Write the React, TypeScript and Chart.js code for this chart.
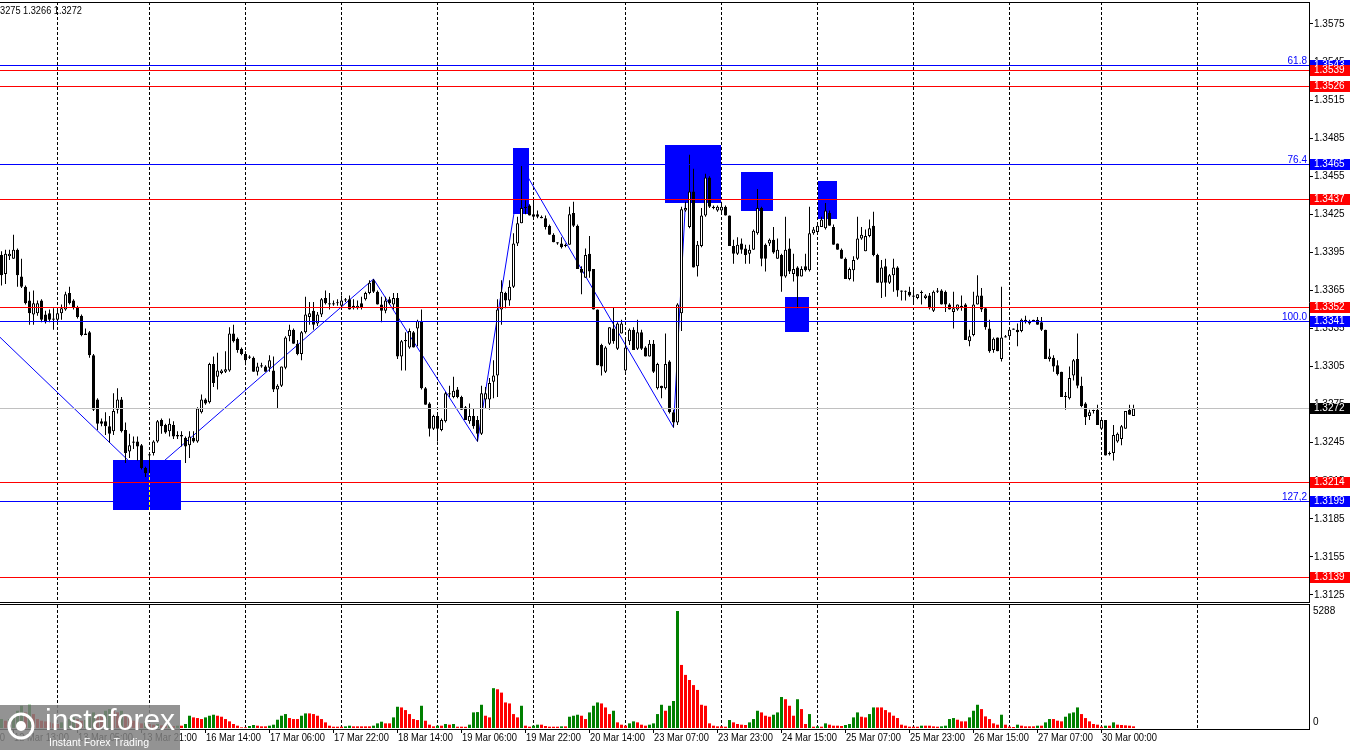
import React, { useEffect, useRef } from 'react';
import { Chart, registerables } from 'chart.js';

Chart.register(...registerables);

const FONT = '"Liberation Sans", Arial, sans-serif';

// ---- hourly candles (GBPUSD H1), bar index 0..283 ----
const OPEN = [
  1.3393,1.3378,1.3392,1.3390,1.3397,1.3376,1.3368,1.3357,1.3346,1.3347,
  1.3357,1.3346,1.3347,1.3343,1.3342,1.3347,1.3350,1.3363,1.3357,1.3352,
  1.3345,1.3331,1.3332,1.3314,1.3279,1.3262,1.3262,1.3258,1.3254,1.3271,
  1.3279,1.3255,1.3238,1.3245,1.3246,1.3243,1.3225,1.3235,1.3237,1.3246,
  1.3263,1.3259,1.3254,1.3259,1.3251,1.3251,1.3249,1.3243,1.3249,1.3246,
  1.3269,1.3279,1.3277,1.3307,1.3297,1.3300,1.3301,1.3302,1.3331,1.3327,
  1.3319,1.3315,1.3313,1.3312,1.3301,1.3305,1.3305,1.3304,1.3302,1.3287,
  1.3290,1.3304,1.3329,1.3334,1.3323,1.3315,1.3332,1.3344,1.3349,1.3339,
  1.3346,1.3359,1.3355,1.3354,1.3355,1.3353,1.3357,1.3358,1.3353,1.3351,
  1.3355,1.3358,1.3363,1.3373,1.3364,1.3354,1.3349,1.3358,1.3354,1.3359,
  1.3313,1.3326,1.3320,1.3332,1.3335,1.3341,1.3288,1.3276,1.3256,1.3266,
  1.3255,1.3262,1.3284,1.3281,1.3287,1.3281,1.3273,1.3262,1.3266,1.3263,
  1.3252,1.3279,1.3279,1.3293,1.3298,1.3350,1.3363,1.3357,1.3368,1.3402,
  1.3418,1.3430,1.3432,1.3425,1.3425,1.3423,1.3422,1.3416,1.3409,1.3402,
  1.3402,1.3400,1.3401,1.3426,1.3416,1.3382,1.3375,1.3394,1.3382,1.3350,
  1.3322,1.3301,1.3323,1.3335,1.3319,1.3331,1.3302,1.3325,1.3334,1.3319,
  1.3332,1.3320,1.3313,1.3323,1.3288,1.3290,1.3288,1.3309,1.3269,1.3261,
  1.3347,1.3428,1.3415,1.3443,1.3384,1.3400,1.3424,1.3454,1.3431,1.3428,
  1.3428,1.3431,1.3424,1.3400,1.3394,1.3402,1.3398,1.3394,1.3397,1.3410,
  1.3430,1.3401,1.3402,1.3405,1.3390,1.3393,1.3376,1.3398,1.3378,1.3383,
  1.3376,1.3384,1.3381,1.3410,1.3411,1.3415,1.3414,1.3426,1.3415,1.3402,
  1.3397,1.3390,1.3374,1.3381,1.3390,1.3406,1.3396,1.3408,1.3416,1.3393,
  1.3371,1.3384,1.3371,1.3377,1.3383,1.3365,1.3364,1.3364,1.3361,1.3359,
  1.3363,1.3359,1.3361,1.3349,1.3364,1.3365,1.3364,1.3354,1.3348,1.3350,
  1.3353,1.3354,1.3325,1.3330,1.3354,1.3361,1.3351,1.3335,1.3318,1.3328,
  1.3311,1.3329,1.3329,1.3334,1.3334,1.3333,1.3342,1.3341,1.3341,1.3342,
  1.3340,1.3334,1.3311,1.3312,1.3306,1.3301,1.3282,1.3280,1.3298,1.3311,
  1.3290,1.3276,1.3266,1.3270,1.3271,1.3256,1.3263,1.3236,1.3237,1.3246,
  1.3248,1.3256,1.3271,1.3266
];
const HIGH = [
  1.3396,1.3397,1.3397,1.3409,1.3398,1.3390,1.3369,1.3364,1.3365,1.3357,
  1.3358,1.3349,1.3350,1.3351,1.3350,1.3354,1.3364,1.3368,1.3358,1.3353,
  1.3346,1.3335,1.3333,1.3315,1.3280,1.3264,1.3269,1.3266,1.3284,1.3288,
  1.3281,1.3261,1.3252,1.3250,1.3250,1.3244,1.3226,1.3237,1.3247,1.3263,
  1.3264,1.3260,1.3264,1.3262,1.3254,1.3254,1.3250,1.3254,1.3254,1.3273,
  1.3283,1.3280,1.3308,1.3313,1.3316,1.3303,1.3317,1.3336,1.3338,1.3328,
  1.3320,1.3317,1.3314,1.3313,1.3308,1.3308,1.3306,1.3314,1.3313,1.3291,
  1.3305,1.3329,1.3338,1.3335,1.3326,1.3333,1.3360,1.3356,1.3356,1.3348,
  1.3359,1.3365,1.3363,1.3357,1.3358,1.3361,1.3359,1.3361,1.3358,1.3357,
  1.3360,1.3364,1.3373,1.3374,1.3365,1.3360,1.3360,1.3360,1.3363,1.3363,
  1.3326,1.3332,1.3335,1.3333,1.3342,1.3350,1.3289,1.3277,1.3267,1.3268,
  1.3264,1.3285,1.3290,1.3297,1.3289,1.3282,1.3274,1.3276,1.3272,1.3266,
  1.3290,1.3289,1.3296,1.3310,1.3358,1.3373,1.3364,1.3373,1.3410,1.3423,
  1.3463,1.3436,1.3433,1.3437,1.3428,1.3424,1.3424,1.3417,1.3410,1.3403,
  1.3407,1.3402,1.3431,1.3435,1.3417,1.3384,1.3398,1.3408,1.3382,1.3350,
  1.3323,1.3321,1.3336,1.3352,1.3340,1.3342,1.3327,1.3335,1.3336,1.3342,
  1.3334,1.3321,1.3326,1.3326,1.3308,1.3290,1.3331,1.3310,1.3271,1.3355,
  1.3431,1.3435,1.3472,1.3461,1.3404,1.3430,1.3457,1.3455,1.3432,1.3432,
  1.3435,1.3432,1.3424,1.3405,1.3407,1.3406,1.3401,1.3401,1.3413,1.3445,
  1.3431,1.3402,1.3406,1.3415,1.3406,1.3394,1.3423,1.3406,1.3394,1.3384,
  1.3384,1.3394,1.3431,1.3415,1.3419,1.3423,1.3434,1.3428,1.3417,1.3402,
  1.3398,1.3391,1.3383,1.3392,1.3423,1.3415,1.3413,1.3421,1.3427,1.3394,
  1.3389,1.3390,1.3378,1.3390,1.3384,1.3365,1.3365,1.3368,1.3367,1.3362,
  1.3365,1.3362,1.3363,1.3365,1.3367,1.3366,1.3365,1.3355,1.3364,1.3354,
  1.3361,1.3355,1.3334,1.3364,1.3377,1.3367,1.3352,1.3342,1.3328,1.3328,
  1.3368,1.3330,1.3335,1.3335,1.3339,1.3343,1.3345,1.3342,1.3342,1.3344,
  1.3344,1.3334,1.3319,1.3314,1.3310,1.3301,1.3285,1.3305,1.3311,1.3331,
  1.3297,1.3277,1.3271,1.3271,1.3275,1.3264,1.3263,1.3238,1.3259,1.3253,
  1.3259,1.3270,1.3275,1.3275
];
const LOW = [
  1.3369,1.3370,1.3389,1.3390,1.3368,1.3367,1.3354,1.3338,1.3338,1.3345,
  1.3340,1.3339,1.3340,1.3334,1.3340,1.3342,1.3349,1.3354,1.3350,1.3343,
  1.3329,1.3330,1.3312,1.3270,1.3255,1.3258,1.3251,1.3245,1.3251,1.3268,
  1.3253,1.3229,1.3233,1.3240,1.3231,1.3224,1.3218,1.3221,1.3235,1.3245,
  1.3252,1.3252,1.3250,1.3248,1.3248,1.3242,1.3229,1.3233,1.3245,1.3245,
  1.3268,1.3275,1.3276,1.3289,1.3287,1.3299,1.3300,1.3301,1.3324,1.3316,
  1.3314,1.3306,1.3311,1.3301,1.3298,1.3304,1.3301,1.3301,1.3285,1.3272,
  1.3289,1.3303,1.3325,1.3323,1.3314,1.3310,1.3331,1.3338,1.3334,1.3337,
  1.3344,1.3354,1.3350,1.3353,1.3353,1.3350,1.3356,1.3350,1.3350,1.3350,
  1.3350,1.3357,1.3362,1.3363,1.3354,1.3340,1.3347,1.3354,1.3350,1.3311,
  1.3302,1.3302,1.3319,1.3320,1.3321,1.3287,1.3275,1.3250,1.3255,1.3246,
  1.3254,1.3261,1.3281,1.3280,1.3280,1.3271,1.3263,1.3260,1.3256,1.3246,
  1.3251,1.3272,1.3271,1.3280,1.3281,1.3338,1.3351,1.3353,1.3367,1.3400,
  1.3418,1.3425,1.3424,1.3422,1.3422,1.3422,1.3413,1.3409,1.3403,1.3401,
  1.3398,1.3399,1.3401,1.3415,1.3382,1.3362,1.3375,1.3375,1.3350,1.3306,
  1.3298,1.3300,1.3322,1.3323,1.3318,1.3331,1.3301,1.3322,1.3318,1.3318,
  1.3318,1.3313,1.3313,1.3300,1.3287,1.3280,1.3287,1.3268,1.3257,1.3259,
  1.3333,1.3427,1.3414,1.3383,1.3376,1.3399,1.3423,1.3430,1.3429,1.3427,
  1.3425,1.3424,1.3400,1.3386,1.3393,1.3394,1.3386,1.3386,1.3397,1.3409,
  1.3384,1.3380,1.3400,1.3394,1.3390,1.3364,1.3375,1.3378,1.3372,1.3351,
  1.3376,1.3380,1.3380,1.3409,1.3410,1.3415,1.3413,1.3416,1.3401,1.3397,
  1.3390,1.3374,1.3373,1.3372,1.3389,1.3405,1.3396,1.3407,1.3392,1.3371,
  1.3359,1.3360,1.3370,1.3364,1.3360,1.3357,1.3357,1.3360,1.3355,1.3358,
  1.3354,1.3358,1.3350,1.3348,1.3363,1.3354,1.3348,1.3350,1.3335,1.3349,
  1.3349,1.3326,1.3321,1.3329,1.3354,1.3348,1.3334,1.3316,1.3316,1.3317,
  1.3309,1.3328,1.3328,1.3334,1.3321,1.3332,1.3339,1.3338,1.3341,1.3338,
  1.3333,1.3311,1.3309,1.3301,1.3298,1.3281,1.3271,1.3279,1.3294,1.3288,
  1.3273,1.3259,1.3263,1.3268,1.3259,1.3255,1.3235,1.3235,1.3231,1.3245,
  1.3243,1.3256,1.3267,1.3266
];
const CLOSE = [
  1.3377,1.3394,1.3394,1.3397,1.3377,1.3368,1.3355,1.3347,1.3355,1.3355,
  1.3342,1.3340,1.3342,1.3342,1.3347,1.3351,1.3362,1.3355,1.3352,1.3344,
  1.3330,1.3330,1.3314,1.3271,1.3260,1.3260,1.3258,1.3252,1.3270,1.3279,
  1.3254,1.3237,1.3243,1.3246,1.3242,1.3225,1.3221,1.3236,1.3246,1.3262,
  1.3258,1.3253,1.3260,1.3250,1.3250,1.3250,1.3242,1.3250,1.3246,1.3272,
  1.3279,1.3276,1.3307,1.3292,1.3302,1.3302,1.3303,1.3331,1.3325,1.3318,
  1.3315,1.3310,1.3312,1.3301,1.3305,1.3306,1.3301,1.3310,1.3287,1.3290,
  1.3305,1.3328,1.3334,1.3323,1.3315,1.3332,1.3346,1.3347,1.3338,1.3346,
  1.3358,1.3355,1.3354,1.3355,1.3355,1.3357,1.3358,1.3350,1.3351,1.3353,
  1.3352,1.3363,1.3371,1.3364,1.3354,1.3349,1.3357,1.3355,1.3359,1.3313,
  1.3325,1.3325,1.3333,1.3320,1.3341,1.3288,1.3275,1.3256,1.3266,1.3256,
  1.3263,1.3284,1.3283,1.3286,1.3281,1.3271,1.3263,1.3266,1.3258,1.3252,
  1.3284,1.3284,1.3292,1.3298,1.3350,1.3364,1.3357,1.3368,1.3402,1.3418,
  1.3430,1.3431,1.3424,1.3423,1.3423,1.3422,1.3415,1.3409,1.3403,1.3403,
  1.3399,1.3401,1.3425,1.3416,1.3382,1.3379,1.3393,1.3380,1.3350,1.3306,
  1.3305,1.3320,1.3336,1.3325,1.3339,1.3339,1.3320,1.3334,1.3318,1.3332,
  1.3319,1.3313,1.3323,1.3301,1.3307,1.3288,1.3307,1.3269,1.3261,1.3354,
  1.3429,1.3430,1.3443,1.3383,1.3401,1.3424,1.3454,1.3431,1.3430,1.3431,
  1.3431,1.3424,1.3400,1.3394,1.3401,1.3397,1.3393,1.3397,1.3412,1.3430,
  1.3390,1.3390,1.3405,1.3395,1.3397,1.3376,1.3397,1.3380,1.3382,1.3376,
  1.3382,1.3381,1.3410,1.3413,1.3416,1.3421,1.3428,1.3416,1.3401,1.3397,
  1.3390,1.3374,1.3382,1.3389,1.3406,1.3409,1.3408,1.3414,1.3393,1.3371,
  1.3383,1.3371,1.3377,1.3383,1.3365,1.3364,1.3364,1.3361,1.3360,1.3362,
  1.3363,1.3361,1.3351,1.3364,1.3365,1.3354,1.3354,1.3350,1.3351,1.3354,
  1.3352,1.3326,1.3329,1.3354,1.3361,1.3350,1.3336,1.3317,1.3327,1.3317,
  1.3328,1.3328,1.3334,1.3335,1.3332,1.3342,1.3340,1.3339,1.3342,1.3338,
  1.3334,1.3311,1.3313,1.3305,1.3299,1.3281,1.3281,1.3296,1.3310,1.3290,
  1.3274,1.3265,1.3269,1.3270,1.3259,1.3263,1.3235,1.3237,1.3251,1.3252,
  1.3258,1.3270,1.3267,1.3272
];
const VOLUME = [
  405,330,405,555,780,1005,705,1050,630,405,
  330,300,255,210,180,255,330,405,480,405,
  330,360,480,705,630,555,780,855,810,705,
  780,630,480,330,255,210,255,180,150,180,
  120,105,120,90,105,105,180,555,480,450,
  405,480,555,600,555,510,405,300,180,105,
  30,30,90,135,105,75,75,105,150,375,
  555,630,450,405,405,555,660,660,630,555,
  405,255,105,60,60,60,75,105,75,75,
  75,75,75,105,210,285,210,210,480,960,
  930,810,630,405,360,1005,330,150,75,105,
  105,180,150,180,60,60,55,150,705,720,
  1050,555,480,1800,1750,1600,1155,1110,630,480,
  1005,105,60,105,150,150,90,60,60,60,
  75,75,510,555,600,555,405,705,1005,1155,
  1110,930,630,780,255,150,105,210,300,255,
  150,105,150,210,630,1050,780,1005,1220,5288,
  2850,2400,2170,1940,1720,1050,1005,210,105,75,
  75,60,360,255,180,150,135,255,405,780,
  705,555,510,600,705,1400,1300,1005,555,1300,
  855,180,630,60,75,60,210,150,105,105,
  90,135,180,480,705,510,480,630,930,930,
  930,810,705,555,450,150,105,60,60,60,
  105,105,105,75,60,75,105,405,450,375,
  300,300,480,780,1050,855,525,405,210,150,
  600,150,60,45,150,105,75,75,75,105,
  105,255,405,405,330,300,510,660,705,930,
  630,450,300,180,150,60,105,105,255,150,
  135,120,105,75
];

// ---- time axis ----
const TIME_LABEL_BARS = [-13, 3, 19, 35, 51, 67, 83, 99, 115, 131, 147, 163, 179, 195, 211, 227, 243, 259, 275];
const TIME_LABELS = [
  '11 Mar 21:00', '12 Mar 13:00', '13 Mar 05:00', '13 Mar 21:00', '16 Mar 14:00', '17 Mar 06:00',
  '17 Mar 22:00', '18 Mar 14:00', '19 Mar 06:00', '19 Mar 22:00', '20 Mar 14:00', '23 Mar 07:00',
  '23 Mar 23:00', '24 Mar 15:00', '25 Mar 07:00', '25 Mar 23:00', '26 Mar 15:00', '27 Mar 07:00', '30 Mar 00:00'
];
const DAY_BARS = [14, 37, 61, 85, 109, 133, 156, 180, 204, 228, 252, 275, 299];

// ---- price axis & levels ----
const PRICE_TICKS = [1.3125, 1.3155, 1.3185, 1.3215, 1.3245, 1.3275, 1.3305, 1.3335, 1.3365, 1.3395, 1.3425, 1.3455, 1.3485, 1.3515, 1.3545, 1.3575];
const RED_LEVELS = [1.3539, 1.3526, 1.3437, 1.3352, 1.3214, 1.3139];
const BLUE_LEVELS = [1.3543, 1.3465, 1.3341, 1.3199];
const FIB_NAMES = ['61.8', '76.4', '100.0', '127,2'];
const LAST_PRICE = 1.3272;
const HEADER_TEXT = '3275 1.3266 1.3272';

// ---- zigzag and zones ----
const ZIGZAG_BARS = [-1, 36, 93, 119, 130, 168, 171];
const ZIGZAG_PRICES = [1.3330, 1.3218, 1.3374, 1.3246, 1.3463, 1.3257, 1.3435];
const ZONE_FROM = [27.9, 127.9, 165.9, 184.9, 195.9, 204.1];
const ZONE_TO = [44.9, 131.9, 179.9, 192.9, 201.9, 208.9];
const ZONE_TOP = [1.3231, 1.3477, 1.3480, 1.3458, 1.3360, 1.3451];
const ZONE_BOTTOM = [1.3192, 1.3425, 1.3434, 1.3428, 1.3332, 1.3421];

const VOLUME_TOP_LABEL = 5288;

// axis ranges
const X_MIN = -0.375;
const X_MAX = 326.875;
const Y_MIN = 1.311948;
const Y_MAX = 1.3592338;
const VOL_MAX = 5559;

const mainDecor = {
  id: 'mainDecor',
  beforeDatasetsDraw(chart: any) {
    const { ctx, chartArea: a, scales } = chart;
    ctx.save();
    ctx.strokeStyle = '#000';
    ctx.lineWidth = 1;
    ctx.setLineDash([3, 2]);
    for (const b of DAY_BARS) {
      const px = Math.floor(scales.x.getPixelForValue(b)) + 0.5;
      if (px < a.left || px > a.right) continue;
      ctx.beginPath();
      ctx.moveTo(px, a.top);
      ctx.lineTo(px, a.bottom);
      ctx.stroke();
    }
    ctx.restore();
  },
  afterDatasetDraw(chart: any, args: any) {
    if (args.index !== 0) return;
    const { ctx, chartArea: a, scales: { x, y } } = chart;
    ctx.save();
    ctx.beginPath();
    ctx.rect(a.left, a.top, a.right - a.left, a.bottom - a.top);
    ctx.clip();
    ZONE_FROM.forEach((f, k) => {
      const x0 = Math.round(x.getPixelForValue(f));
      const x1 = Math.round(x.getPixelForValue(ZONE_TO[k]));
      const y0 = Math.round(y.getPixelForValue(ZONE_TOP[k]));
      const y1 = Math.round(y.getPixelForValue(ZONE_BOTTOM[k]));
      ctx.fillStyle = '#0000ff';
      ctx.fillRect(x0, y0, x1 - x0, y1 - y0);
      for (const b of DAY_BARS) {
        const px = Math.floor(x.getPixelForValue(b)) + 0.5;
        if (px < x0 || px > x1) continue;
        ctx.save();
        ctx.beginPath();
        ctx.rect(x0, y0, x1 - x0, y1 - y0);
        ctx.clip();
        ctx.strokeStyle = '#ffff00';
        ctx.lineWidth = 1;
        ctx.setLineDash([3, 2]);
        ctx.beginPath();
        ctx.moveTo(px, a.top);
        ctx.lineTo(px, a.bottom);
        ctx.stroke();
        ctx.restore();
      }
    });
    ctx.restore();
  },
  afterDatasetsDraw(chart: any) {
    const { ctx, chartArea: a, scales: { y } } = chart;
    ctx.save();
    const hline = (p: number, c: string) => {
      const py = Math.round(y.getPixelForValue(p));
      ctx.fillStyle = c;
      ctx.fillRect(a.left, py, a.right - a.left, 1);
    };
    hline(LAST_PRICE, '#c0c0c0');
    RED_LEVELS.forEach((p) => hline(p, '#ff0000'));
    BLUE_LEVELS.forEach((p) => hline(p, '#0000ff'));
    ctx.font = `10px ${FONT}`;
    ctx.textAlign = 'right';
    ctx.textBaseline = 'alphabetic';
    ctx.fillStyle = '#0000ff';
    BLUE_LEVELS.forEach((p, k) => {
      const py = Math.round(y.getPixelForValue(p));
      ctx.fillText(FIB_NAMES[k], a.right - 2, py - 1);
    });
    ctx.restore();
  },
  afterDraw(chart: any) {
    const { ctx, chartArea: a, scales: { y }, width } = chart;
    ctx.save();
    ctx.fillStyle = '#000';
    ctx.fillRect(0, a.top, a.right, 1);
    ctx.fillRect(0, a.bottom, a.right, 1);
    const box = (p: number, bg: string) => {
      const py = Math.round(y.getPixelForValue(p));
      ctx.fillStyle = bg;
      ctx.fillRect(a.right + 1, py - 5, width - a.right - 1, 11);
      ctx.fillStyle = '#fff';
      ctx.font = `10px ${FONT}`;
      ctx.textAlign = 'left';
      ctx.textBaseline = 'middle';
      ctx.fillText(p.toFixed(4), a.right + 5, py + 0.5);
    };
    BLUE_LEVELS.forEach((p) => box(p, '#0000ff'));
    RED_LEVELS.forEach((p) => box(p, '#ff0000'));
    box(LAST_PRICE, '#000000');
    ctx.fillStyle = '#000';
    ctx.font = `10px ${FONT}`;
    ctx.textAlign = 'left';
    ctx.textBaseline = 'middle';
    ctx.fillText(HEADER_TEXT, 0, 11, 82);
    ctx.restore();
  },
};

const volDecor = {
  id: 'volDecor',
  beforeDatasetsDraw(chart: any) {
    const { ctx, chartArea: a, scales } = chart;
    ctx.save();
    ctx.strokeStyle = '#000';
    ctx.lineWidth = 1;
    ctx.setLineDash([3, 2]);
    for (const b of DAY_BARS) {
      const px = Math.floor(scales.x.getPixelForValue(b)) + 0.5;
      if (px < a.left || px > a.right) continue;
      ctx.beginPath();
      ctx.moveTo(px, 1);
      ctx.lineTo(px, a.bottom + 1);
      ctx.stroke();
    }
    ctx.restore();
  },
  afterDraw(chart: any) {
    const { ctx, chartArea: a, scales: { x } } = chart;
    ctx.save();
    ctx.fillStyle = '#000';
    ctx.fillRect(0, 0, a.right + 1, 1);
    ctx.fillRect(0, a.bottom + 1, a.right + 1, 1);
    ctx.fillRect(a.right, 0, 1, a.bottom + 2);
    ctx.font = `10px ${FONT}`;
    ctx.textAlign = 'left';
    ctx.textBaseline = 'middle';
    ctx.fillText(String(VOLUME_TOP_LABEL), a.right + 4, 7);
    ctx.fillText('0', a.right + 4, 118);
    TIME_LABEL_BARS.forEach((b, k) => {
      const px = Math.floor(x.getPixelForValue(b));
      if (px >= 0 && px < a.right) ctx.fillRect(px, a.bottom + 2, 1, 3);
      ctx.fillText(TIME_LABELS[k], px + 1, 134, 55);
    });
    // watermark
    ctx.fillStyle = 'rgba(128,128,128,0.85)';
    ctx.fillRect(0, 101, 180, 45);
    ctx.strokeStyle = '#ffffff';
    ctx.lineWidth = 3;
    ctx.beginPath();
    ctx.arc(21, 122, 12, 0, Math.PI * 2);
    ctx.stroke();
    ctx.fillStyle = '#ffffff';
    ctx.beginPath();
    ctx.arc(21, 122, 5, 0, Math.PI * 2);
    ctx.fill();
    ctx.font = `30px ${FONT}`;
    ctx.textBaseline = 'alphabetic';
    ctx.fillText('instaforex', 45, 126, 132);
    ctx.font = `11px ${FONT}`;
    ctx.fillText('Instant Forex Trading', 49, 142, 100);
    ctx.restore();
  },
};

export default function App() {
  const mainRef = useRef<HTMLCanvasElement>(null);
  const volRef = useRef<HTMLCanvasElement>(null);

  useEffect(() => {
    const idx = OPEN.map((_, i) => i);
    const bull = idx.map((i) => CLOSE[i] >= OPEN[i]);
    const main = new Chart(mainRef.current as HTMLCanvasElement, {
      type: 'bar',
      data: {
        datasets: [
          {
            type: 'line',
            label: 'zigzag',
            data: ZIGZAG_BARS.map((b, k) => ({ x: b, y: ZIGZAG_PRICES[k] })),
            borderColor: '#0000ff',
            borderWidth: 1,
            pointRadius: 0,
            fill: false,
            tension: 0,
            order: 10,
          } as any,
          {
            type: 'bar',
            label: 'wicks',
            data: idx.map((i) => ({ x: i, y: [LOW[i], HIGH[i]] })),
            backgroundColor: '#000000',
            borderWidth: 0,
            barThickness: 1,
            grouped: false,
            inflateAmount: 0,
            minBarLength: 1,
            order: 5,
          } as any,
          {
            type: 'bar',
            label: 'bodies',
            data: idx.map((i) => ({ x: i, y: [OPEN[i], CLOSE[i]] })),
            backgroundColor: bull.map((b) => (b ? '#ffffff' : '#000000')),
            borderColor: '#000000',
            borderWidth: 1,
            borderSkipped: false,
            barThickness: 3,
            grouped: false,
            inflateAmount: 0,
            minBarLength: 1,
            order: 1,
          } as any,
        ],
      },
      options: {
        animation: false,
        responsive: false,
        devicePixelRatio: 1,
        events: [],
        layout: { padding: { top: 2, bottom: 2, left: 0, right: 0 } },
        plugins: { legend: { display: false }, tooltip: { enabled: false } },
        scales: {
          x: { type: 'linear', min: X_MIN, max: X_MAX, offset: false, display: false },
          y: {
            type: 'linear',
            position: 'right',
            min: Y_MIN,
            max: Y_MAX,
            beginAtZero: false,
            afterBuildTicks: (s: any) => {
              s.ticks = PRICE_TICKS.map((v) => ({ value: v }));
            },
            afterFit: (s: any) => {
              s.width = 41;
              s.paddingTop = 0;
              s.paddingBottom = 0;
            },
            ticks: {
              autoSkip: false,
              padding: 1,
              color: '#000',
              font: { family: FONT, size: 10 },
              callback: (v: any) => Number(v).toFixed(4),
            },
            grid: { drawOnChartArea: false, color: '#000', tickLength: 4, tickWidth: 1 },
            border: { display: true, color: '#000', width: 1 },
          },
        },
      } as any,
      plugins: [mainDecor],
    });

    const volColors = VOLUME.map((v, i) => (i > 0 && v > VOLUME[i - 1] ? '#008000' : i === 0 ? '#008000' : '#ff0000'));
    const vol = new Chart(volRef.current as HTMLCanvasElement, {
      type: 'bar',
      data: {
        datasets: [
          {
            label: 'volume',
            data: VOLUME.map((v, i) => ({ x: i, y: v })),
            backgroundColor: volColors,
            borderWidth: 0,
            barThickness: 3,
            grouped: false,
            inflateAmount: 0,
          } as any,
        ],
      },
      options: {
        animation: false,
        responsive: false,
        devicePixelRatio: 1,
        events: [],
        layout: { padding: { top: 1, bottom: 22, left: 0, right: 0 } },
        plugins: { legend: { display: false }, tooltip: { enabled: false } },
        scales: {
          x: { type: 'linear', min: X_MIN, max: X_MAX, offset: false, display: false },
          y: {
            type: 'linear',
            position: 'right',
            min: 0,
            max: VOL_MAX,
            ticks: { display: false },
            grid: { display: false, drawOnChartArea: false, drawTicks: false },
            border: { display: false },
            afterFit: (s: any) => {
              s.width = 41;
              s.paddingTop = 0;
              s.paddingBottom = 0;
            },
          },
        },
      } as any,
      plugins: [volDecor],
    });

    return () => {
      main.destroy();
      vol.destroy();
    };
  }, []);

  return (
    <div style={{ position: 'fixed', left: 0, top: 0, width: 1350, height: 750, background: '#ffffff' }}>
      <canvas
        ref={mainRef}
        width={1350}
        height={604}
        style={{ position: 'absolute', left: 0, top: 0, width: 1350, height: 604 }}
      />
      <canvas
        ref={volRef}
        width={1350}
        height={146}
        style={{ position: 'absolute', left: 0, top: 604, width: 1350, height: 146 }}
      />
    </div>
  );
}
